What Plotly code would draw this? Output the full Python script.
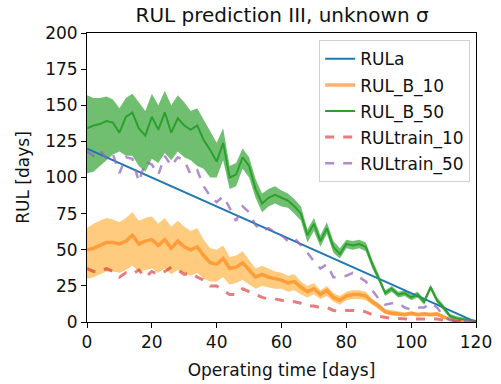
import plotly.graph_objects as go

t = list(range(0, 121, 2))

rul_a = [120 - v for v in t]

rul_b_50 = [134, 136, 137, 139, 138, 131, 142, 145, 134, 129, 142, 133, 145, 131, 141, 136, 133, 136, 126, 119,
            111, 124, 100, 102, 114, 108, 92, 82, 86, 88, 86, 84, 80, 75, 60, 68, 56, 65, 52, 47,
            54, 53, 54, 52, 40, 30, 20, 23, 19, 20, 17, 19, 14, 24, 15, 10, 4, 2.5, 2, 1, 0.5]
rul_b_50_hi = [157, 155, 155, 156, 154, 148, 155, 158, 152, 146, 158, 150, 160, 150, 157, 152, 146, 148, 140, 132,
               124, 134, 108, 110, 120, 114, 99, 89, 92, 94, 91, 89, 85, 80, 64, 72, 60, 69, 56, 51,
               57, 56, 57, 55, 43, 33, 22, 25, 21, 22, 19, 21, 16, 26, 17, 12, 5.5, 4, 3, 2, 1.5]
rul_b_50_lo = [103, 104, 108, 112, 116, 118, 115, 115, 108, 104, 113, 110, 117, 112, 118, 114, 112, 108, 106, 100,
               100, 112, 92, 94, 106, 100, 86, 76, 80, 82, 80, 79, 75, 70, 55, 63, 52, 61, 48, 44,
               51, 50, 51, 49, 37, 28, 18, 21, 17, 18, 15, 17, 12, 22, 13, 8, 2.5, 1.5, 1, 0.5, 0]

rul_b_10 = [50, 51, 53, 55, 55, 54, 56, 60, 54, 56, 57, 53, 57, 51, 56, 52, 50, 52, 46, 41,
            40, 44, 37, 38, 41, 36, 31, 33, 31, 30, 29, 27, 28, 24, 21, 23, 19, 22, 17, 15,
            18, 19, 19, 18, 14, 11, 7, 6, 5.5, 5, 6, 5, 5.5, 5, 5.5, 3.5, 1.5, 1, 0.5, 0.3, 0]
rul_b_10_hi = [65, 68, 70, 72, 71, 69, 72, 76, 70, 72, 73, 68, 72, 66, 70, 66, 63, 65, 57, 51,
               50, 53, 45, 46, 49, 43, 37, 39, 37, 35, 34, 32, 33, 28, 25, 27, 22, 25, 20, 18,
               21, 22, 22, 21, 16, 13, 9, 8, 7, 6.5, 7.5, 6.5, 7, 6.5, 7, 4.5, 2.5, 1.8, 1, 0.6, 0.3]
rul_b_10_lo = [30, 31, 33, 35, 35, 34, 36, 39, 35, 36, 37, 34, 37, 33, 36, 34, 32, 34, 30, 28,
               28, 31, 26, 27, 29, 26, 23, 25, 24, 23, 23, 21, 22, 19, 17, 19, 16, 18, 14, 12,
               15, 16, 16, 15, 12, 9, 5.5, 4.5, 4, 3.8, 4.5, 3.8, 4, 3.8, 4, 2.5, 1, 0.5, 0.2, 0.1, 0]

rul_train_10 = [37, 35, 35, 37, 35, 31, 34, 33, 36, 31, 35, 33, 35, 38, 36, 33, 34, 31, 29, 25,
                25, 22, 19, 19, 23, 21, 19, 17, 16, 16, 15, 14, 14, 13, 11, 11, 10, 10, 8, 7.5,
                8, 8, 8, 7, 5, 4, 3, 2.5, 2.5, 2, 2, 2, 2.2, 2, 2, 1.2, 0.6, 0.4, 0.2, 0.1, 0]
rul_train_50 = [118, 115, 119, 113, 116, 103, 114, 113, 97, 111, 109, 102, 115, 108, 114, 112, 102, 105, 94, 87,
                83, 87, 79, 70, 80, 76, 67, 63, 65, 62, 60, 56, 58, 53, 48, 42, 37, 40, 31, 31,
                32, 34, 31, 28, 22, 16, 12, 13, 13, 10, 8.5, 10, 10, 13, 10, 4, 1.5, 1, 0.5, 0.3, 0]

x_ticks = [0, 20, 40, 60, 80, 100, 120]
y_ticks = [0, 25, 50, 75, 100, 125, 150, 175, 200]

BLUE = "#1f77b4"
GREEN = "#2ca02c"

fig = go.Figure()

# uncertainty bands
fig.add_trace(go.Scatter(x=t, y=rul_b_10_hi, mode="lines", line=dict(width=0), showlegend=False, hoverinfo="skip"))
fig.add_trace(go.Scatter(x=t, y=rul_b_10_lo, mode="lines", line=dict(width=0), fill="tonexty",
                         fillcolor="rgba(255,160,20,0.55)", showlegend=False, hoverinfo="skip"))
fig.add_trace(go.Scatter(x=t, y=rul_b_50_hi, mode="lines", line=dict(width=0), showlegend=False, hoverinfo="skip"))
fig.add_trace(go.Scatter(x=t, y=rul_b_50_lo, mode="lines", line=dict(width=0), fill="tonexty",
                         fillcolor="rgba(44,160,44,0.68)", showlegend=False, hoverinfo="skip"))

fig.add_trace(go.Scatter(x=t, y=rul_a, mode="lines", name="RULa", legendgroup="a",
                         line=dict(color=BLUE, width=2)))
fig.add_trace(go.Scatter(x=t, y=rul_b_10, mode="lines", name="RUL_B_10", legendgroup="b",
                         line=dict(color="rgba(255,127,14,0.6)", width=3.5)))
fig.add_trace(go.Scatter(x=t, y=rul_b_50, mode="lines", name="RUL_B_50", legendgroup="c",
                         line=dict(color=GREEN, width=2)))
fig.add_trace(go.Scatter(x=t, y=rul_train_10, mode="lines", name="RULtrain_10", legendgroup="d",
                         line=dict(color="rgba(214,39,40,0.6)", width=3, dash="dash")))
fig.add_trace(go.Scatter(x=t, y=rul_train_50, mode="lines", name="RULtrain_50", legendgroup="e",
                         line=dict(color="rgba(148,103,189,0.75)", width=2.5, dash="dash")))

axis_common = dict(showline=True, linecolor="black", linewidth=1, mirror=True, showgrid=False,
                   zeroline=False, ticks="outside", ticklen=5, tickcolor="black", automargin=False,
                   tickfont=dict(family="DejaVu Sans", size=17, color="#111111"))

fig.update_layout(
    width=501, height=384,
    margin=dict(l=87, r=25, t=33, b=62),
    paper_bgcolor="white", plot_bgcolor="white",
    font=dict(family="DejaVu Sans", color="#111111"),
    title=dict(text="RUL prediction III, unknown σ", x=0.563, xanchor="center", y=0.961, yanchor="middle",
               font=dict(family="DejaVu Sans", size=20, color="#111111")),
    xaxis=dict(range=[0, 120], tickvals=x_ticks, title=dict(text="Operating time [days]",
               font=dict(size=17), standoff=12), **axis_common),
    yaxis=dict(range=[0, 200], tickvals=y_ticks, title=dict(text="RUL [days]", font=dict(size=17), standoff=11),
               **axis_common),
    legend=dict(x=0.985, y=0.975, xanchor="right", yanchor="top", bgcolor="rgba(255,255,255,0.85)",
                bordercolor="#d0d0d0", borderwidth=1, font=dict(family="DejaVu Sans", size=17, color="#111111"),
                tracegroupgap=1),
    showlegend=True,
)

fig.write_html("out.html")
